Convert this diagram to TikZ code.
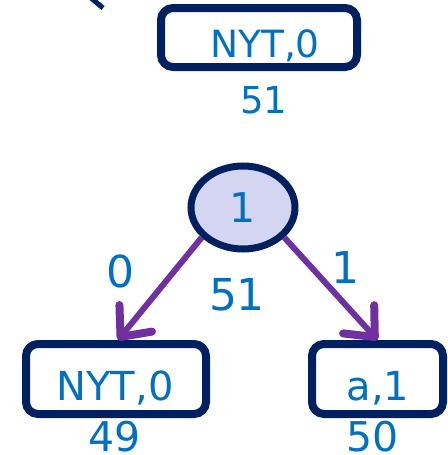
\documentclass[tikz,border=0pt]{standalone}
\usepackage{fontspec}
\setmainfont{DejaVu Sans}
\usetikzlibrary{shapes.geometric,arrows.meta,calc}
\definecolor{navy}{HTML}{002060}
\definecolor{txtblue}{HTML}{0070C0}
\definecolor{edgepurple}{HTML}{7030A0}
\definecolor{nodefill}{HTML}{D4D5F1}

\begin{document}
\begin{tikzpicture}[x=1pt,y=-1pt,
  box/.style={draw=navy,line width=8pt,rounded corners=12pt,inner sep=0pt},
  inode/.style={ellipse,draw=navy,line width=7pt,fill=nodefill,inner sep=0pt,
    text=txtblue,font=\fontsize{41}{44}\selectfont},
  lbl/.style={text=txtblue,anchor=base,inner sep=0pt},
  edge/.style={draw=edgepurple,line width=6pt,
    -{Straight Barb[length=24pt,width=42pt,line width=8pt,round]}}]
\useasboundingbox (0,0) rectangle (447,455);

% stub of a link running off the top
\coordinate (stubA) at (91,-2);
\coordinate (stubB) at (103,8);
\draw[navy,line width=5pt] (stubA) -- (stubB);

% NYT leaf before the split
\node[box,minimum width=196pt,minimum height=59pt] (oldnyt) at (259,37.5) {};
\node[lbl,font=\fontsize{37.5}{40}\selectfont] (oldnyttxt) at (265,57) {NYT,0};
\node[lbl,font=\fontsize{37}{40}\selectfont] (oldnytnum) at (264,113) {51};

% new internal node and its children
\node[inode,minimum width=104pt,minimum height=83pt] (inner) at (243,207.5) {1};
\node[lbl,font=\fontsize{44}{48}\selectfont] (innernum) at (237,310) {51};

\node[box,minimum width=180pt,minimum height=70pt] (nyt) at (116,379) {};
\node[lbl,font=\fontsize{40}{44}\selectfont] (nyttxt) at (115,400) {NYT,0};
\node[lbl,font=\fontsize{41}{44}\selectfont] (nytnum) at (115,451) {49};

\node[box,minimum width=131pt,minimum height=70pt] (leafa) at (377.5,379) {};
\node[lbl,font=\fontsize{40}{44}\selectfont] (leafatxt) at (378,400) {a,1};
\node[lbl,font=\fontsize{41}{44}\selectfont] (leafanum) at (373,451) {50};

% branches
\draw[edge] (inner.216) -- ($(nyt.north)+(2,0)$);
\draw[edge] (inner.324) -- (leafa.north);
\node[lbl,font=\fontsize{44}{48}\selectfont] (bit0) at (120,287) {0};
\node[lbl,font=\fontsize{44}{48}\selectfont] (bit1) at (345,283) {1};
\end{tikzpicture}
\end{document}
